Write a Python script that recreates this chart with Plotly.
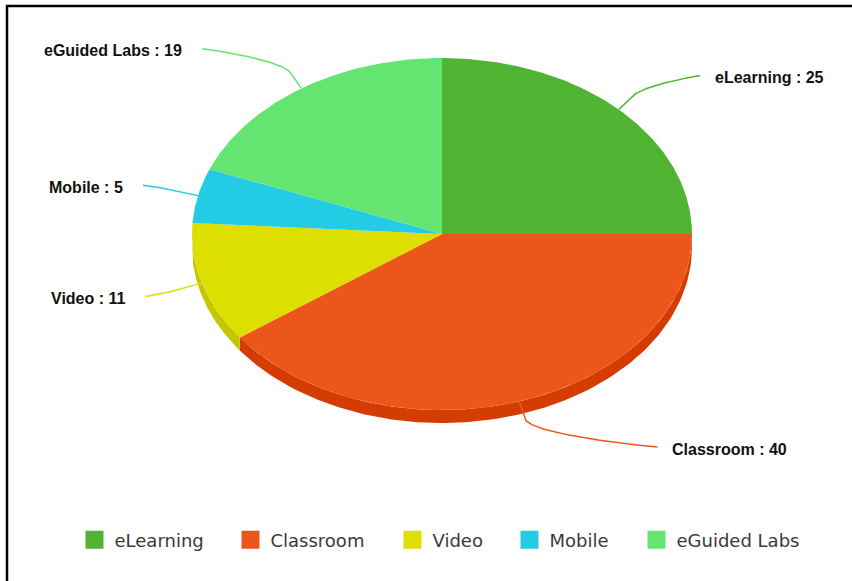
import numpy as np
import plotly.graph_objects as go

# ---- data ----
categories = ["eLearning", "Classroom", "Video", "Mobile", "eGuided Labs"]
values = [25, 40, 11, 5, 19]
colors = ["#50B432", "#ED561B", "#DDDF00", "#24CBE5", "#64E572"]

# ---- geometry / style (pixel space) ----
W, H = 852, 581
CX, CY, RX, RY, DEPTH = 442, 234, 250, 176, 13
LABEL_RY = 224      # vertical reach of label anchor points
LABEL_R = 303       # circle that places the connector ends horizontally
TEXT_GAP_LEFT = 18
TEXT_GAP_RIGHT = 13
BREAK = 18
LEGEND_SQ_CENTERS = [94.5, 250.5, 412.5, 529.5, 656.5]
LEGEND_Y = 540


def darken(hexcol, amt=25.5):
    h = hexcol.lstrip("#")
    r, g, b = (int(h[i:i + 2], 16) for i in (0, 2, 4))
    r, g, b = (max(0, int(round(c - amt))) for c in (r, g, b))
    return f"#{r:02X}{g:02X}{b:02X}"


def ell(theta_deg, dy=0.0):
    t = np.radians(theta_deg)
    return CX + RX * np.sin(t), CY - RY * np.cos(t) + dy


total = float(sum(values))
bounds = []
acc = 0.0
for v in values:
    a0 = acc / total * 360.0
    acc += v
    a1 = acc / total * 360.0
    bounds.append((a0, a1))

fig = go.Figure()

# side walls (front half only)
for (a0, a1), col in zip(bounds, colors):
    lo, hi = max(a0, 90.0), min(a1, 270.0)
    if hi <= lo:
        continue
    t = np.linspace(lo, hi, 120)
    xt, yt = ell(t)
    xb, yb = ell(t, DEPTH)
    xs = np.concatenate([xt, xb[::-1], xt[:1]])
    ys = np.concatenate([yt, yb[::-1], yt[:1]])
    fig.add_trace(go.Scatter(x=xs, y=ys, mode="lines", fill="toself",
                             fillcolor=darken(col), line=dict(width=0, color=darken(col)),
                             hoverinfo="skip", showlegend=False))

# top faces
for (a0, a1), col, name, v in zip(bounds, colors, categories, values):
    t = np.linspace(a0, a1, max(20, int((a1 - a0) * 2)))
    xa, ya = ell(t)
    xs = np.concatenate([[CX], xa, [CX]])
    ys = np.concatenate([[CY], ya, [CY]])
    fig.add_trace(go.Scatter(x=xs, y=ys, mode="lines", fill="toself",
                             fillcolor=col, line=dict(width=0, color=col),
                             name=name, legendgroup=name, showlegend=False,
                             hoverinfo="text", text=f"{name}: {v}"))

# connectors and labels
annotations = []
for (a0, a1), col, name, v in zip(bounds, colors, categories, values):
    m = (a0 + a1) / 2.0
    sm, cm = np.sin(np.radians(m)), np.cos(np.radians(m))
    E = np.array(ell(m))
    B = E + BREAK * np.array([sm, -cm])
    ly = CY - LABEL_RY * cm
    dy = ly - CY
    side = 1 if sm >= 0 else -1
    lx = CX + side * np.sqrt(max(LABEL_R ** 2 - dy ** 2, 0))
    L = np.array([lx, ly])
    C1 = 2 * B - E
    s = np.linspace(0, 1, 60)[:, None]
    curve = ((1 - s) ** 3) * B + 3 * ((1 - s) ** 2) * s * C1 + 3 * (1 - s) * s ** 2 * L + s ** 3 * L
    pts = np.vstack([E[None, :], curve])
    fig.add_trace(go.Scatter(x=pts[:, 0], y=pts[:, 1], mode="lines",
                             line=dict(color=col, width=1.5), hoverinfo="skip",
                             showlegend=False))
    gap = TEXT_GAP_RIGHT if side > 0 else TEXT_GAP_LEFT
    annotations.append(dict(
        x=lx + side * gap, y=ly + 2, xref="x", yref="y",
        text=f"{name} : {v}", showarrow=False,
        xanchor="left" if side > 0 else "right", yanchor="middle",
        font=dict(family="Liberation Sans, Arial, sans-serif", size=16,
                  color="#111111", weight="bold"),
    ))

# legend entries (one legend box per entry so spacing can follow the original)
legend_layouts = {}
for i, (name, col, xc) in enumerate(zip(categories, colors, LEGEND_SQ_CENTERS)):
    key = "legend" if i == 0 else f"legend{i + 1}"
    fig.add_trace(go.Scatter(x=[None], y=[None], mode="markers", name=name,
                             legendgroup=name, legend=key,
                             marker=dict(symbol="square", size=16, color=col,
                                         line=dict(width=2, color=col))))
    legend_layouts[key] = dict(
        orientation="h", x=(xc - 20) / W, xanchor="left",
        y=1 - LEGEND_Y / H, yanchor="middle",
        font=dict(family="DejaVu Sans, Verdana, sans-serif", size=18, color="#3a3a3a"),
        bgcolor="rgba(0,0,0,0)", borderwidth=0,
        itemclick=False, itemdoubleclick=False)

fig.update_layout(
    width=W, height=H,
    margin=dict(l=0, r=0, t=0, b=0),
    paper_bgcolor="white", plot_bgcolor="white",
    xaxis=dict(range=[0, W], visible=False, fixedrange=True),
    yaxis=dict(range=[H, 0], visible=False, fixedrange=True),
    showlegend=True,
    annotations=annotations,
    shapes=[dict(type="rect", xref="paper", yref="paper",
                 x0=7 / W, x1=1.05, y0=-0.05, y1=1 - 6 / H,
                 line=dict(color="black", width=2.5), fillcolor="rgba(0,0,0,0)")],
    hovermode="closest",
    **legend_layouts,
)

fig.write_html("out.html", config={"displayModeBar": False},
               post_script="document.body.style.margin='0';")
